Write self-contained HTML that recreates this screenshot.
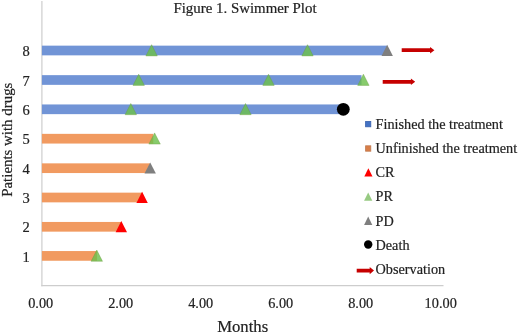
<!DOCTYPE html>
<html><head><meta charset="utf-8">
<style>
html,body{margin:0;padding:0;background:#fff;}
svg{display:block}
text{font-family:"Liberation Serif",serif;fill:#222;stroke:#222;stroke-width:0.2px;}
</style></head><body>
<svg width="520" height="333" viewBox="0 0 520 333">
<rect width="520" height="333" fill="#fff"/>
<line x1="41.9" y1="1" x2="41.9" y2="286.2" stroke="#cdcdcd" stroke-width="1.2"/>
<line x1="41.3" y1="285.6" x2="443.5" y2="285.6" stroke="#cdcdcd" stroke-width="1.2"/>
<rect x="41.9" y="45.65" width="345.10" height="9.7" fill="#7194d6"/>
<rect x="41.9" y="75.15" width="319.60" height="9.7" fill="#7194d6"/>
<rect x="41.9" y="104.45" width="300.60" height="9.7" fill="#7194d6"/>
<rect x="41.9" y="133.85" width="111.40" height="9.7" fill="#f19a60"/>
<rect x="41.9" y="163.35" width="108.10" height="9.7" fill="#f19a60"/>
<rect x="41.9" y="192.65" width="100.10" height="9.7" fill="#f19a60"/>
<rect x="41.9" y="221.95" width="79.10" height="9.7" fill="#f19a60"/>
<rect x="41.9" y="251.05" width="55.10" height="9.7" fill="#f19a60"/>
<polygon points="151.60,44.70 145.90,55.90 157.30,55.90" fill="#6cbf4c" fill-opacity="0.82" stroke="#6a9a3a" stroke-opacity="0.55" stroke-width="0.7"/>
<polygon points="307.50,44.70 301.80,55.90 313.20,55.90" fill="#6cbf4c" fill-opacity="0.82" stroke="#6a9a3a" stroke-opacity="0.55" stroke-width="0.7"/>
<polygon points="387.20,44.70 381.50,55.90 392.90,55.90" fill="#7f7f7f"/>
<polygon points="138.70,74.20 133.00,85.40 144.40,85.40" fill="#6cbf4c" fill-opacity="0.82" stroke="#6a9a3a" stroke-opacity="0.55" stroke-width="0.7"/>
<polygon points="268.50,74.20 262.80,85.40 274.20,85.40" fill="#6cbf4c" fill-opacity="0.82" stroke="#6a9a3a" stroke-opacity="0.55" stroke-width="0.7"/>
<polygon points="363.40,74.20 357.70,85.40 369.10,85.40" fill="#6cbf4c" fill-opacity="0.82" stroke="#6a9a3a" stroke-opacity="0.55" stroke-width="0.7"/>
<polygon points="130.80,103.50 125.10,114.70 136.50,114.70" fill="#6cbf4c" fill-opacity="0.82" stroke="#6a9a3a" stroke-opacity="0.55" stroke-width="0.7"/>
<polygon points="245.50,103.50 239.80,114.70 251.20,114.70" fill="#6cbf4c" fill-opacity="0.82" stroke="#6a9a3a" stroke-opacity="0.55" stroke-width="0.7"/>
<polygon points="154.60,132.90 148.90,144.10 160.30,144.10" fill="#6cbf4c" fill-opacity="0.82" stroke="#6a9a3a" stroke-opacity="0.55" stroke-width="0.7"/>
<polygon points="150.20,162.40 144.50,173.60 155.90,173.60" fill="#7f7f7f"/>
<polygon points="142.10,191.70 136.40,202.90 147.80,202.90" fill="#ff0000"/>
<polygon points="121.30,221.00 115.60,232.20 127.00,232.20" fill="#ff0000"/>
<polygon points="96.80,250.10 91.10,261.30 102.50,261.30" fill="#6cbf4c" fill-opacity="0.82" stroke="#6a9a3a" stroke-opacity="0.55" stroke-width="0.7"/>
<circle cx="343.3" cy="109.3" r="6.4" fill="#000"/>
<path d="M401.7,48.35 H430.09999999999997 V46.900000000000006 L434.4,50.2 L430.09999999999997,53.5 V52.050000000000004 H401.7 Z" fill="#c60000"/>
<path d="M382.7,79.95 H410.9 V78.5 L415.2,81.8 L410.9,85.1 V83.64999999999999 H382.7 Z" fill="#c60000"/>
<path d="M356.7,268.75 H369.7 V267.0 L374,270.6 L369.7,274.20000000000005 V272.45000000000005 H356.7 Z" fill="#c60000"/>
<text x="245" y="13.2" font-size="14.9" text-anchor="middle" fill="#111">Figure 1. Swimmer Plot</text>
<g font-size="14.5" text-anchor="middle">
<text x="26.1" y="56.10">8</text>
<text x="26.1" y="85.60">7</text>
<text x="26.1" y="114.90">6</text>
<text x="26.1" y="144.30">5</text>
<text x="26.1" y="173.80">4</text>
<text x="26.1" y="203.10">3</text>
<text x="26.1" y="232.40">2</text>
<text x="26.1" y="261.50">1</text>
</g>
<text transform="translate(11.8,139.7) rotate(-90)" font-size="14.9" text-anchor="middle">Patients with drugs</text>
<g font-size="14.3" text-anchor="middle">
<text x="40.70" y="308.3">0.00</text>
<text x="120.70" y="308.3">2.00</text>
<text x="200.70" y="308.3">4.00</text>
<text x="280.70" y="308.3">6.00</text>
<text x="360.70" y="308.3">8.00</text>
<text x="440.70" y="308.3">10.00</text>
</g>
<text x="242.7" y="331.7" font-size="16.7" text-anchor="middle">Months</text>
<rect x="365.6" y="121.4" width="5.2" height="5.4" fill="#4472c4" stroke="#3a62ad" stroke-width="0.8"/>
<rect x="365.6" y="145.8" width="5.2" height="5.4" fill="#d87e48" stroke="#c07a50" stroke-width="0.8"/>
<polygon points="368.4,168.2 364.3,176.6 372.5,176.6" fill="#ff0000"/>
<polygon points="368.2,192.4 364.1,200.8 372.3,200.8" fill="#8cc474" fill-opacity="0.9"/>
<polygon points="368.2,216.6 364.1,225 372.3,225" fill="#7f7f7f"/>
<circle cx="368.2" cy="244.5" r="4.2" fill="#000"/>
<g font-size="14.25">
<text x="375.5" y="128.8">Finished the treatment</text>
<text x="375.5" y="153.3">Unfinished the treatment</text>
<text x="375.5" y="177.3">CR</text>
<text x="375.5" y="201.3">PR</text>
<text x="375.5" y="225.8">PD</text>
<text x="375.5" y="249.8">Death</text>
<text x="375.5" y="274">Observation</text>
</g>
</svg>
</body></html>
